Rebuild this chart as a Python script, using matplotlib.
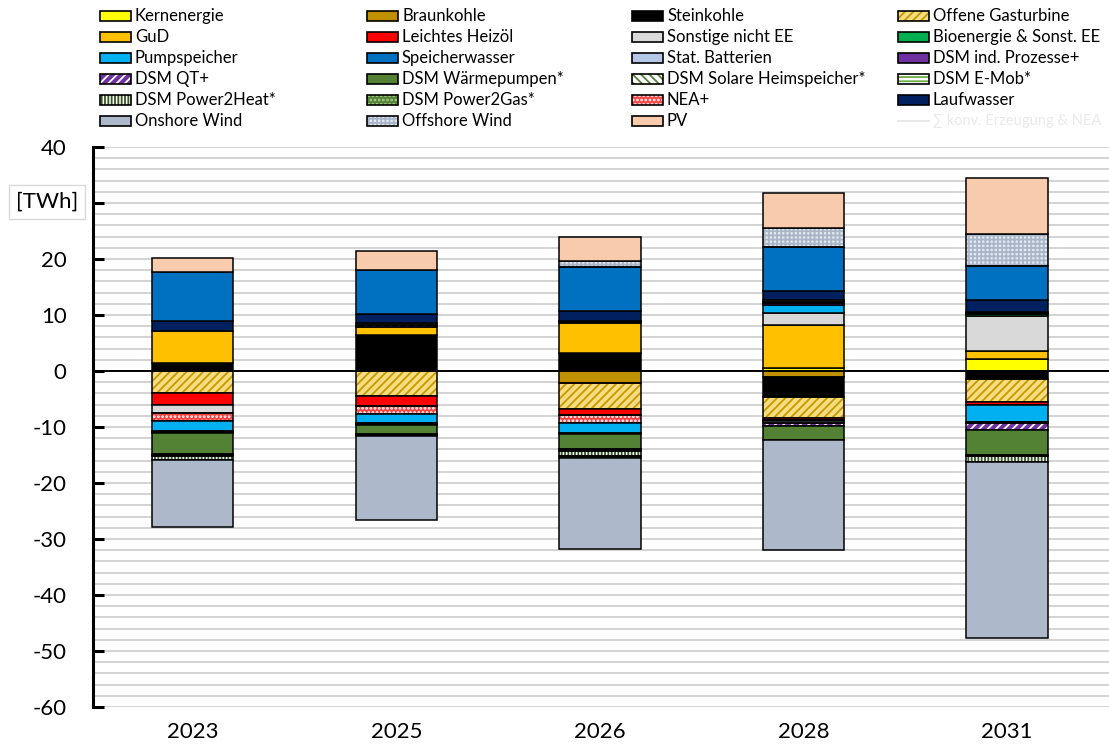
import numpy as np
import matplotlib
matplotlib.use("Agg")
import matplotlib.pyplot as plt
from matplotlib.patches import Rectangle
from matplotlib.lines import Line2D

plt.rcParams['font.family'] = ['Lato', 'DejaVu Sans']
plt.rcParams['hatch.linewidth'] = 1.3

years = ["2023", "2025", "2026", "2028", "2031"]
y_tick_values = [-60, -50, -40, -30, -20, -10, 0, 10, 20, 30, 40]
y_tick_labels = ["-60", "-50", "-40", "-30", "-20", "-10", "0", "10", "20", "", "40"]

kernenergie = [0, 0, 0, 0.5, 2.1]
braunkohle = [0, 0, -2.2, -1.1, 0]
steinkohle = [1.4, 6.4, 3.3, -3.5, -1.5]
offene_gasturbine = [-3.9, -4.5, -4.5, -3.8, -4.1]
gud = [5.7, 1.5, 5.2, 7.8, 1.5]
leichtes_heizoel = [-2.1, -1.8, -1.2, -0.3, -0.5]
sonstige_nicht_ee = [-1.5, 0, 0, 2.0, 6.2]
bioenergie = [0, 0, 0, 0, 0.3]
nea_plus = [-1.4, -1.4, -1.3, -0.3, 0]
pumpspeicher = [-1.8, -1.5, -1.9, 1.5, -3.0]
stat_batterien = [-0.2, -0.2, -0.2, -0.3, -0.2]
dsm_ind = [-0.2, -0.2, 0.25, 0.3, 0.25]
dsm_qt = [0, 0.3, 0.25, -0.6, -1.3]
dsm_waermepumpen = [-3.7, -1.7, -2.6, -2.5, -4.4]
dsm_solar = [-0.2, -0.15, -0.2, 0.3, -0.2]
dsm_emob = [-0.2, -0.15, -0.2, 0.3, 0.25]
dsm_p2h = [-0.7, 0, -0.8, 0, -1.0]
dsm_p2g = [0, 0.3, -0.4, 0, -0.1]
laufwasser = [1.8, 1.7, 1.7, 1.6, 2.1]
speicherwasser = [8.8, 7.9, 7.8, 7.9, 6.1]
onshore = [-11.9, -15.0, -16.3, -19.5, -31.4]
offshore = [0, 0, 1.1, 3.3, 5.6]
pv = [2.4, 3.4, 4.3, 6.2, 10.0]

# (label, values, face, hatch, hatchcolor)
stack = [
    ("Kernenergie", kernenergie, "#FFFF00", None, None),
    ("Braunkohle", braunkohle, "#BF9000", None, None),
    ("Steinkohle", steinkohle, "#000000", None, None),
    ("Offene Gasturbine", offene_gasturbine, "#F7DC82", "////", "#C49A00"),
    ("GuD", gud, "#FFC000", None, None),
    ("Leichtes Heizöl", leichtes_heizoel, "#FF0000", None, None),
    ("Sonstige nicht EE", sonstige_nicht_ee, "#D9D9D9", None, None),
    ("Bioenergie & Sonst. EE", bioenergie, "#00B050", None, None),
    ("NEA+", nea_plus, "#FF4040", "....", "#FFFFFF"),
    ("Pumpspeicher", pumpspeicher, "#00B0F0", None, None),
    ("Stat. Batterien", stat_batterien, "#B4C7E7", None, None),
    ("DSM ind. Prozesse+", dsm_ind, "#7030A0", None, None),
    ("DSM QT+", dsm_qt, "#7030A0", "////", "#FFFFFF"),
    ("DSM Wärmepumpen*", dsm_waermepumpen, "#548235", None, None),
    ("DSM Solare Heimspeicher*", dsm_solar, "#FFFFFF", "\\\\\\\\", "#548235"),
    ("DSM E-Mob*", dsm_emob, "#FFFFFF", "----", "#70AD47"),
    ("DSM Power2Heat*", dsm_p2h, "#FFFFFF", "|||||", "#375623"),
    ("DSM Power2Gas*", dsm_p2g, "#548235", "....", "#A9D18E"),
    ("Laufwasser", laufwasser, "#002060", None, None),
    ("Speicherwasser", speicherwasser, "#0070C0", None, None),
    ("Onshore Wind", onshore, "#ADB9CA", None, None),
    ("Offshore Wind", offshore, "#E4E9F1", "++++", "#A9B5C8"),
    ("PV", pv, "#F8CBAD", None, None),
]
style = {s[0]: s for s in stack}

legend_rows = [
    ["Kernenergie", "Braunkohle", "Steinkohle", "Offene Gasturbine"],
    ["GuD", "Leichtes Heizöl", "Sonstige nicht EE", "Bioenergie & Sonst. EE"],
    ["Pumpspeicher", "Speicherwasser", "Stat. Batterien", "DSM ind. Prozesse+"],
    ["DSM QT+", "DSM Wärmepumpen*", "DSM Solare Heimspeicher*", "DSM E-Mob*"],
    ["DSM Power2Heat*", "DSM Power2Gas*", "NEA+", "Laufwasser"],
    ["Onshore Wind", "Offshore Wind", "PV", None],
]
sum_label = "∑ konv. Erzeugung & NEA"

W, H = 1109, 749
fig = plt.figure(figsize=(W / 100, H / 100), dpi=100)
ax = fig.add_axes([93 / W, 1 - 707 / H, (1109 - 93) / W, (707 - 147) / H])

x = np.arange(len(years))
bw = 0.40
pos_bottom = np.zeros(len(years))
neg_bottom = np.zeros(len(years))
for label, vals, face, hatch, hcol in stack:
    v = np.array(vals, dtype=float)
    for i, val in enumerate(v):
        if val == 0:
            continue
        if val > 0:
            b = pos_bottom[i]
            pos_bottom[i] += val
        else:
            b = neg_bottom[i]
            neg_bottom[i] += val
        if hatch:
            ax.bar(x[i], val, bw, bottom=b, facecolor=face, hatch=hatch,
                   edgecolor=hcol, linewidth=0, zorder=3)
            ax.bar(x[i], val, bw, bottom=b, fill=False, edgecolor="#000000",
                   linewidth=1.1, zorder=4)
        else:
            ax.bar(x[i], val, bw, bottom=b, facecolor=face,
                   edgecolor="#000000", linewidth=1.1, zorder=4)

ax.set_xlim(-0.49, 4.50)
ax.set_ylim(-60, 40)
ax.set_yticks(y_tick_values)
ax.set_yticklabels(y_tick_labels)
ax.set_yticks(np.arange(-60, 41, 2), minor=True)
ax.yaxis.grid(True, which="both", color="#D0D0D0", linewidth=1.3, zorder=0)
ax.set_axisbelow(True)
ax.axhline(0, color="#000000", linewidth=1.4, zorder=5)
ax.set_xticks(x)
ax.set_xticklabels(years)
for s in ["top", "right", "bottom"]:
    ax.spines[s].set_visible(False)
ax.spines["left"].set_linewidth(2.2)
ax.tick_params(axis="y", which="major", direction="in", length=8, width=2.2,
               labelsize=16, pad=19)
ax.tick_params(axis="y", which="minor", length=0)
ax.tick_params(axis="x", length=0, labelsize=16, pad=11)

fig.text(47 / W, 1 - 202 / H, "[TWh]", fontsize=16, ha="center", va="center",
         bbox=dict(boxstyle="square,pad=0.3", fc="white", ec="#D9D9D9", lw=1))

# legend
col_x = [100, 367, 632, 898]
row_y = [16, 37, 58, 79, 100, 121]
hw, hh = 31, 10
for r, row in enumerate(legend_rows):
    for c, name in enumerate(row):
        x0 = col_x[c]
        yc = row_y[r]
        if name is None:
            fig.add_artist(Line2D([x0 / W, (x0 + hw) / W], [1 - yc / H, 1 - yc / H],
                                  color="#E8E8E8", lw=1.5, transform=fig.transFigure))
            fig.text((x0 + 35) / W, 1 - yc / H, sum_label, fontsize=10.5,
                     color="#EAEAEA", ha="left", va="center")
            continue
        _, _, face, hatch, hcol = style[name]
        rect_xy = (x0 / W, 1 - (yc + hh / 2) / H)
        if hatch:
            fig.add_artist(Rectangle(rect_xy, hw / W, hh / H, facecolor=face,
                                     hatch=hatch, edgecolor=hcol, linewidth=0,
                                     transform=fig.transFigure))
            fig.add_artist(Rectangle(rect_xy, hw / W, hh / H, fill=False,
                                     edgecolor="#000000", linewidth=1.2,
                                     transform=fig.transFigure))
        else:
            fig.add_artist(Rectangle(rect_xy, hw / W, hh / H, facecolor=face,
                                     edgecolor="#000000", linewidth=1.2,
                                     transform=fig.transFigure))
        fig.text((x0 + 35) / W, 1 - yc / H, name, fontsize=12, color="#000000",
                 ha="left", va="center")

fig.savefig("out.png", dpi=100)
